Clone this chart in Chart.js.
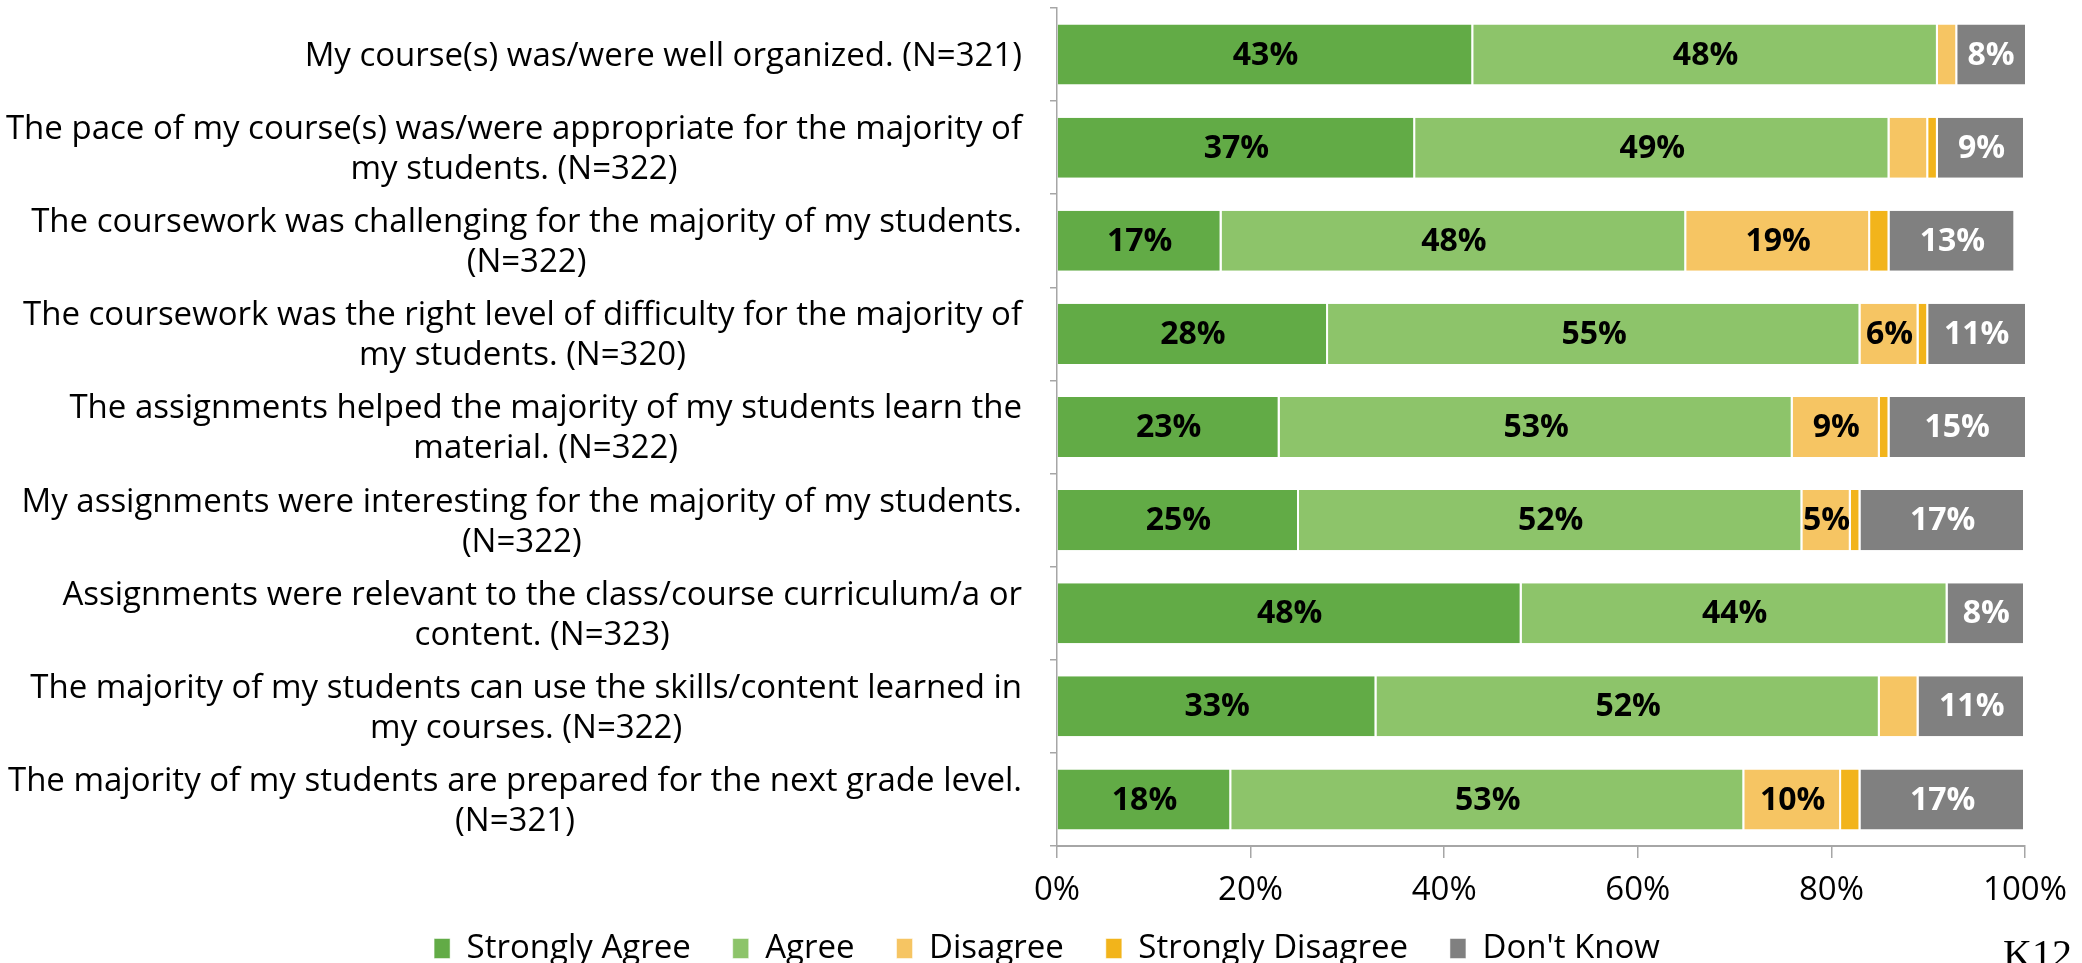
<!DOCTYPE html>
<html>
<head>
<meta charset="utf-8">
<script src="https://cdn.jsdelivr.net/npm/chart.js@4/dist/chart.umd.min.js"></script>
<style>
  html, body { margin: 0; padding: 0; background: #fff; overflow: hidden; }
  canvas { display: block; }
</style>
</head>
<body>
<canvas id="surveyChart" width="2082" height="1010"></canvas>
<script>
// question labels, already wrapped the way the original shows them
var categories = [
  ["My course(s) was/were well organized. (N=321)"],
  ["The pace of my course(s) was/were appropriate for the majority of", "my students. (N=322)"],
  ["The coursework was challenging for the majority of my students.", "(N=322)"],
  ["The coursework was the right level of difficulty for the majority of", "my students. (N=320)"],
  ["The assignments helped the majority of my students learn the", "material. (N=322)"],
  ["My assignments were interesting for the majority of my students.", "(N=322)"],
  ["Assignments were relevant to the class/course curriculum/a or", "content. (N=323)"],
  ["The majority of my students can use the skills/content learned in", "my courses. (N=322)"],
  ["The majority of my students are prepared for the next grade level.", "(N=321)"]
];

var seriesNames = ["Strongly Agree", "Agree", "Disagree", "Strongly Disagree", "Don't Know"];

var stronglyAgree    = [43, 37, 17, 28, 23, 25, 48, 33, 18];
var agree            = [48, 49, 48, 55, 53, 52, 44, 52, 53];
var disagree         = [2, 4, 19, 6, 9, 5, 0, 4, 10];
var stronglyDisagree = [0, 1, 2, 1, 1, 1, 0, 0, 2];
var dontKnow         = [8, 9, 13, 11, 15, 17, 8, 11, 17];

var xTicks = [0, 20, 40, 60, 80, 100];

var colors = ["#62ab46", "#8dc46a", "#f6c563", "#f2b41b", "#808080"];
var labelColors = ["#000", "#000", "#000", "#000", "#fff"];
var axisGray = "#a6a6a6";
var fontFamily = '"Open Sans", sans-serif';

// percent labels inside the bar segments
var segmentLabels = {
  id: "segmentLabels",
  afterDatasetsDraw: function(chart) {
    var ctx = chart.ctx;
    var area = chart.chartArea;
    ctx.save();
    ctx.font = "bold 32px " + fontFamily;
    ctx.textAlign = "center";
    ctx.textBaseline = "middle";
    chart.data.datasets.forEach(function(ds, di) {
      var meta = chart.getDatasetMeta(di);
      meta.data.forEach(function(bar, i) {
        var v = ds.data[i];
        if (v < 5) return;
        var right = Math.min(bar.x, area.right);
        var cx = (bar.base + right) / 2;
        ctx.fillStyle = labelColors[di];
        ctx.fillText(v + "%", cx, bar.y + 1);
      });
    });
    ctx.restore();
  }
};

// legend sits tighter under the axis than the layout gives it
var legendShift = {
  id: "legendShift",
  afterLayout: function(chart) {
    var lg = chart.legend;
    var shift = lg.top - 890;
    lg.top -= shift;
    lg.bottom -= shift;
  }
};

// question text: lines centred on each other, block right aligned to the axis
var questionLabels = {
  id: "questionLabels",
  afterDraw: function(chart) {
    var ctx = chart.ctx;
    var yScale = chart.scales.y;
    var rightEdge = chart.chartArea.left - 35;
    ctx.save();
    ctx.font = "33px " + fontFamily;
    ctx.fillStyle = "#000";
    ctx.textAlign = "center";
    ctx.textBaseline = "middle";
    categories.forEach(function(lines, i) {
      var w = 0;
      lines.forEach(function(l) { w = Math.max(w, ctx.measureText(l).width); });
      var cx = rightEdge - w / 2;
      var cy = yScale.getPixelForValue(i) + 2;
      lines.forEach(function(l, k) {
        ctx.fillText(l, cx, cy + (k - (lines.length - 1) / 2) * 40);
      });
    });
    // stray page text in the bottom right corner
    ctx.font = '40px "Liberation Serif", serif';
    ctx.textAlign = "left";
    ctx.textBaseline = "alphabetic";
    ctx.fillText("K12", 2003, 967);
    ctx.restore();
  }
};

var allSeries = [stronglyAgree, agree, disagree, stronglyDisagree, dontKnow];
var datasets = allSeries.map(function(values, i) {
  return {
    label: seriesNames[i],
    data: values,
    backgroundColor: colors[i],
    borderColor: "#fff",
    borderWidth: { top: 0, bottom: 0, left: 0, right: 2 },
    borderSkipped: false,
    barPercentage: 0.645,
    categoryPercentage: 1
  };
});

var chart = new Chart(document.getElementById("surveyChart"), {
  type: "bar",
  data: {
    labels: categories.map(function(c) { return c.join(" "); }),
    datasets: datasets
  },
  options: {
    indexAxis: "y",
    responsive: false,
    animation: false,
    layout: { padding: { left: 69, right: 57, top: 8, bottom: 14 } },
    scales: {
      x: {
        stacked: true,
        min: 0,
        max: 100,
        afterBuildTicks: function(scale) {
          scale.ticks = xTicks.map(function(v) { return { value: v }; });
        },
        ticks: {
          callback: function(v) { return v + "%"; },
          padding: 13,
          color: "#000",
          font: { family: fontFamily, size: 33 }
        },
        grid: { drawOnChartArea: false, tickLength: 12, color: axisGray, lineWidth: 1.5 },
        border: { color: axisGray, width: 2 },
        afterFit: function(scale) { scale.height = 65; }
      },
      y: {
        stacked: true,
        ticks: { display: false },
        grid: { drawOnChartArea: false, tickLength: 7, color: axisGray, lineWidth: 1.5, offset: true },
        border: { color: axisGray, width: 1.5 },
        afterFit: function(scale) { scale.width = 988; }
      }
    },
    plugins: {
      legend: {
        position: "bottom",
        labels: {
          boxWidth: 16,
          boxHeight: 20,
          padding: 42,
          color: "#000",
          font: { family: fontFamily, size: 33 }
        }
      },
      tooltip: { enabled: false }
    }
  },
  plugins: [segmentLabels, legendShift, questionLabels]
});
</script>
</body>
</html>
